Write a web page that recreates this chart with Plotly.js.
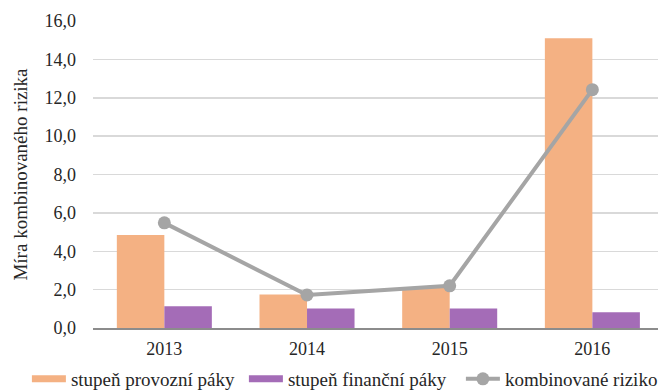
<!DOCTYPE html>
<html>
<head>
<meta charset="utf-8">
<script src="https://cdn.plot.ly/plotly-3.0.1.min.js"></script>
<style>
  html, body { margin: 0; padding: 0; background: #fff; }
  #chart { width: 658px; height: 390px; }
</style>
</head>
<body>
<div id="chart"></div>
<script>
// Years on the category axis
const years = ['2013', '2014', '2015', '2016'];
// Degree of operating leverage
const provozniPaky = [4.85, 1.75, 2.1, 15.1];
// Degree of financial leverage
const financniPaky = [1.13, 1.02, 1.02, 0.82];
// Combined risk (DOL x DFL)
const kombinovaneRiziko = [5.48, 1.72, 2.2, 12.42];
// Y-axis tick values
const yTicks = [0, 2, 4, 6, 8, 10, 12, 14, 16];

const serif = '"Liberation Serif", "Times New Roman", serif';
const ink = '#262626';
const orange = '#f4b183';
const purple = '#a46cb7';
const grey = '#a5a5a5';

// Bars carry the data; the flat legend keys are drawn by empty line traces
// in the same legend group so the swatches look like wide thin bands.
const traces = [
  {
    type: 'bar', name: 'stupeň provozní páky', x: years, y: provozniPaky,
    marker: { color: orange }, legendgroup: 'dol', showlegend: false
  },
  {
    type: 'bar', name: 'stupeň finanční páky', x: years, y: financniPaky,
    marker: { color: purple }, legendgroup: 'dfl', showlegend: false
  },
  {
    type: 'scatter', mode: 'lines', name: 'stupeň provozní páky',
    x: [years[0]], y: [null], legendgroup: 'dol',
    line: { color: orange, width: 7 }
  },
  {
    type: 'scatter', mode: 'lines', name: 'stupeň finanční páky',
    x: [years[0]], y: [null], legendgroup: 'dfl',
    line: { color: purple, width: 7 }
  },
  {
    type: 'scatter', mode: 'lines+markers', name: 'kombinované riziko',
    x: years, y: kombinovaneRiziko,
    line: { color: grey, width: 4 },
    marker: { color: grey, size: 13 }
  }
];

const layout = {
  width: 658, height: 390,
  margin: { l: 93, r: 0, t: 21, b: 62, autoexpand: false },
  paper_bgcolor: '#ffffff', plot_bgcolor: '#ffffff',
  separators: ',.',
  font: { family: serif, size: 18, color: ink },
  barmode: 'group', bargap: 0.334, bargroupgap: 0,
  showlegend: true,
  legend: {
    orientation: 'h', xref: 'paper', x: -0.117, xanchor: 'left',
    yref: 'paper', y: -0.166, yanchor: 'middle',
    font: { family: serif, size: 19, color: ink },
    itemwidth: 34, entrywidth: 168, tracegroupgap: 0, traceorder: 'normal'
  },
  xaxis: {
    type: 'category', range: [-0.5, 3.46],
    showgrid: false, showline: true, linecolor: '#8c8c8c', linewidth: 1.5,
    ticks: '', tickfont: { family: serif, size: 18, color: ink },
    ticklabelstandoff: 4,
    zeroline: false, fixedrange: true
  },
  yaxis: {
    range: [0, 16], tickvals: yTicks, tickformat: '.1f',
    showgrid: true, gridcolor: '#d9d9d9', gridwidth: 1.5,
    zeroline: false, showline: false, ticks: '',
    tickfont: { family: serif, size: 18, color: ink },
    ticklabelstandoff: 16,
    title: { text: 'Míra kombinovaného rizika', font: { family: serif, size: 19, color: ink }, standoff: 11 },
    fixedrange: true
  }
};

Plotly.newPlot('chart', traces, layout, { displayModeBar: false, staticPlot: true });
</script>
</body>
</html>
